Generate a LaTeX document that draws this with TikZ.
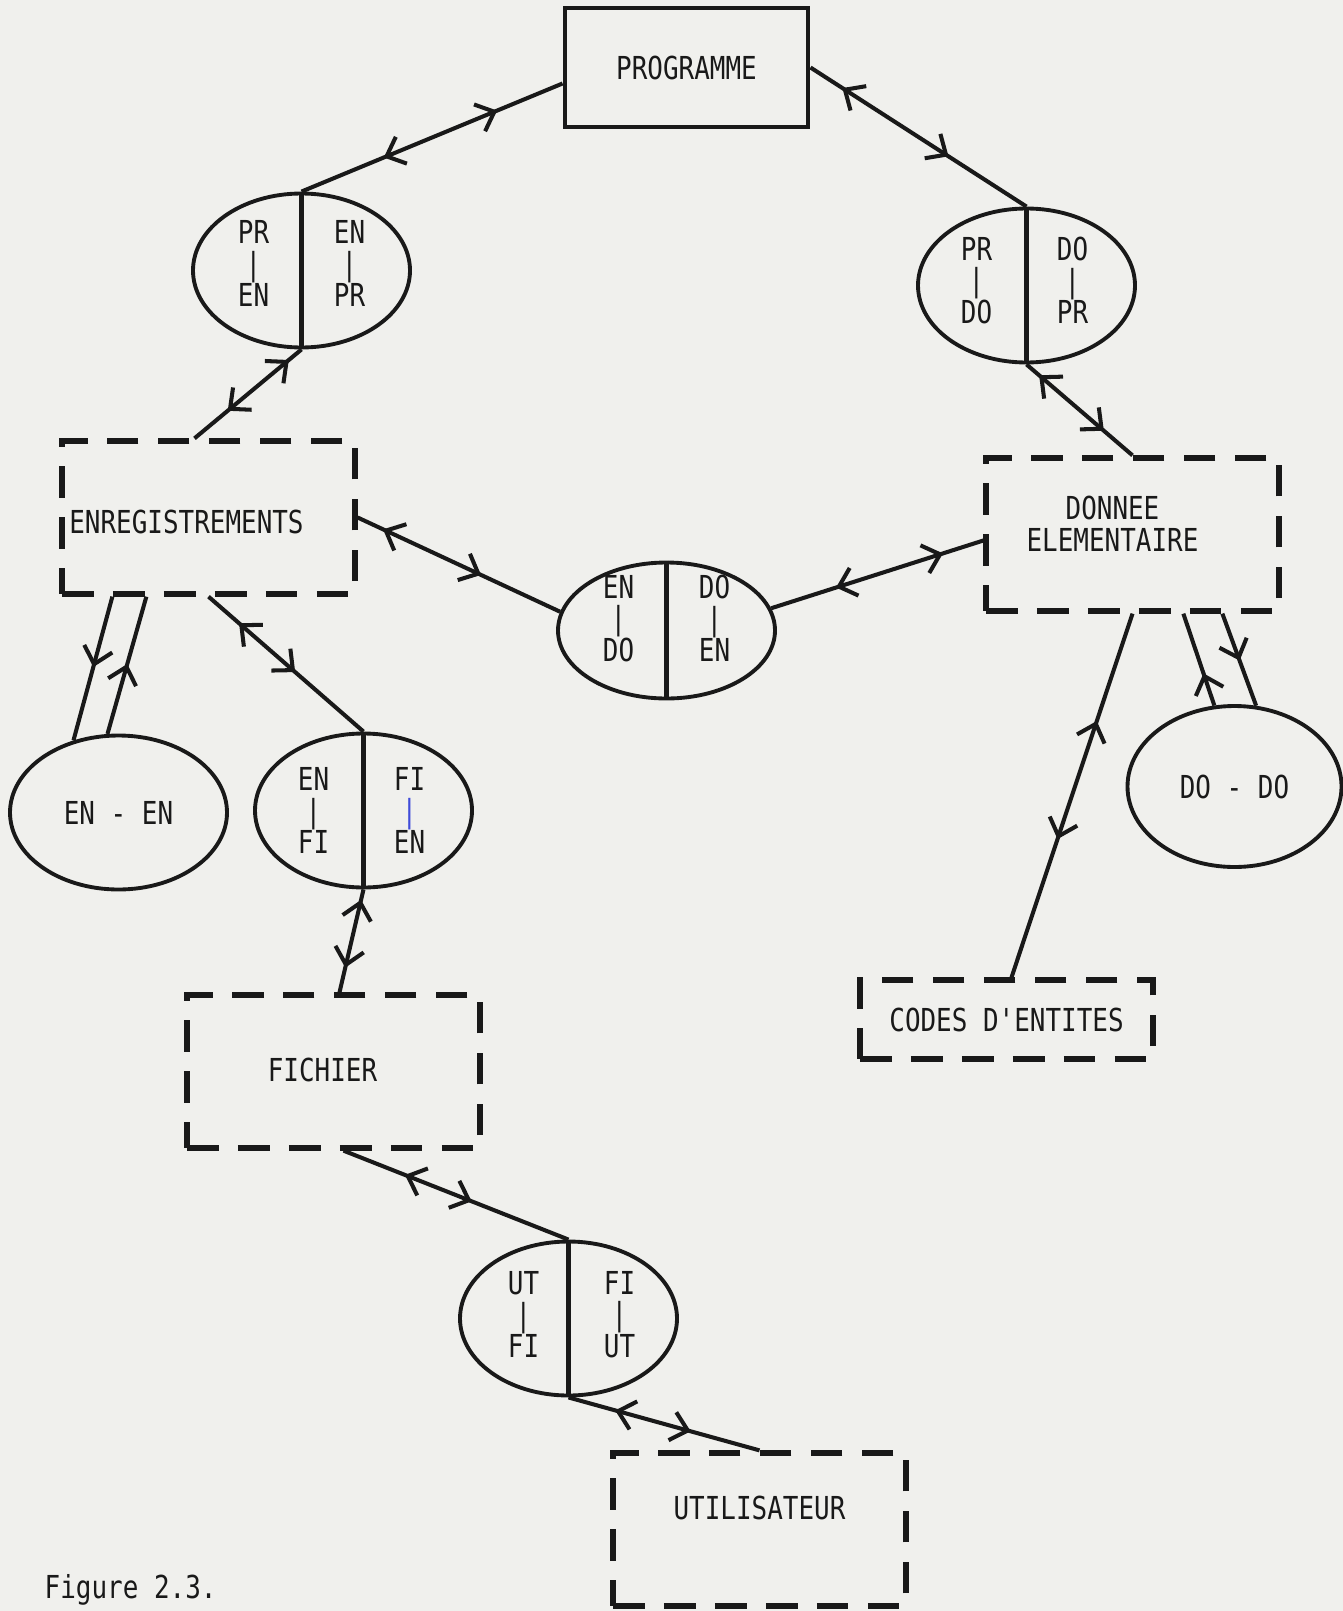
\documentclass[tikz,border=0pt]{standalone}
\usepackage{fontspec}
\setmonofont[FakeStretch=0.82]{DejaVu Sans Mono}
\usepackage{tikz}
\usetikzlibrary{shapes.geometric, arrows.meta, decorations.markings}
\definecolor{paper}{rgb}{0.94, 0.94, 0.93}
\definecolor{ink}{rgb}{0.1, 0.1, 0.1}
\definecolor{bluepen}{rgb}{0.25, 0.3, 0.85}
\tikzstyle{prg} = [rectangle,draw,line width=1.4pt,minimum width=2.43cm,minimum height=1.19cm]
\tikzstyle{ent} = [rectangle,draw,line width=1.5pt,dash pattern=on 9pt off 5.5pt,minimum width=2.93cm,minimum height=1.53cm]
\tikzstyle{rel} = [ellipse,draw,line width=1.1pt,inner sep=0pt,minimum width=2.17cm,minimum height=1.54cm]
\tikzstyle{half} = [align=center,inner sep=0pt]
\tikzset{lien/.style 2 args={postaction={decorate},decoration={markings,mark=at position #1 with {\arrow{<}},mark=at position #2 with {\arrow{>}}}}}
\tikzset{vers/.style={postaction={decorate},decoration={markings,mark=at position #1 with {\arrow{>}}}}}

\begin{document}
\begin{tikzpicture}[color=ink, line width=1.15pt, >={Straight Barb[length=1.6mm,width=2.9mm]}, every node/.style={font=\ttfamily\fontsize{9}{9}\selectfont}]
	\fill[paper] (0,0) rectangle (13.43,-16.11);
	\useasboundingbox (0,0) rectangle (13.43,-16.11);

	\node [prg](prog) at (6.865,-0.675) {PROGRAMME};
	\node [rel,below of=prog,xshift=-3.85cm,yshift=-1.03cm](pren){};
	\node [rel,below of=prog,xshift=3.4cm,yshift=-1.18cm](prdo){};
	\node [ent,below of=pren,xshift=-0.93cm,yshift=-1.47cm](enr){};
	\node [ent,below of=prdo,xshift=1.06cm,yshift=-1.49cm](don){};
	\node [rel,minimum height=1.36cm,right of=enr,xshift=3.58cm,yshift=-1.13cm](endo){};
	\node [rel,below of=enr,xshift=-0.9cm,yshift=-1.95cm](enen){EN - EN};
	\node [rel,below of=enr,xshift=1.55cm,yshift=-1.93cm](enfi){};
	\node [rel,minimum width=2.14cm,minimum height=1.61cm,below of=don,xshift=1.02cm,yshift=-1.52cm](dodo){DO - DO};
	\node [ent,minimum height=0.79cm,below of=don,xshift=-1.26cm,yshift=-3.85cm](codes){CODES D'ENTITES};
	\node [ent,below of=enfi,xshift=-0.3cm,yshift=-1.61cm](fich){};
	\node [rel,below of=fich,xshift=2.35cm,yshift=-1.47cm](utfi){};
	\node [ent,below of=utfi,xshift=1.91cm,yshift=-1.11cm](util){};

	\node (enrt) at ([xshift=-0.22cm,yshift=-0.04cm]enr.center) {ENREGISTREMENTS};
	\node [align=center](dont) at ([xshift=-0.2cm,yshift=0.11cm]don.center) {DONNEE\\ELEMENTAIRE};
	\node (ficht) at ([xshift=-0.11cm,yshift=0.02cm]fich.center) {FICHIER};
	\node (utilt) at ([yshift=0.22cm]util.center) {UTILISATEUR};

	% split relations
	\draw (pren.north)--(pren.south);
	\draw (prdo.north)--(prdo.south);
	\draw (endo.north)--(endo.south);
	\draw (enfi.north)--(enfi.south);
	\draw (utfi.north)--(utfi.south);
	\node [half](pren1) at ([xshift=-0.48cm,yshift=0.07cm]pren.center) {PR\\|\\EN};
	\node [half](pren2) at ([xshift=0.48cm,yshift=0.07cm]pren.center) {EN\\|\\PR};
	\node [half](prdo1) at ([xshift=-0.5cm,yshift=0.05cm]prdo.center) {PR\\|\\DO};
	\node [half](prdo2) at ([xshift=0.46cm,yshift=0.05cm]prdo.center) {DO\\|\\PR};
	\node [half](endo1) at ([xshift=-0.48cm,yshift=0.12cm]endo.center) {EN\\|\\DO};
	\node [half](endo2) at ([xshift=0.48cm,yshift=0.12cm]endo.center) {DO\\|\\EN};
	\node [half](enfi1) at ([xshift=-0.5cm]enfi.center) {EN\\|\\FI};
	\node [half](enfi2) at ([xshift=0.46cm]enfi.center) {FI\\{\color{bluepen}|}\\EN};
	\node [half](utfi1) at ([xshift=-0.45cm,yshift=0.04cm]utfi.center) {UT\\|\\FI};
	\node [half](utfi2) at ([xshift=0.51cm,yshift=0.04cm]utfi.center) {FI\\|\\UT};

	\draw[lien={0.39}{0.75}](pren.north)--([yshift=-0.16cm]prog.west);
	\draw[lien={0.23}{0.64}](prog.east)--(prdo.north);
	\draw[lien={0.27}{0.69}](pren.south)--([xshift=-0.14cm]enr.north);
	\draw[lien={0.27}{0.73}](prdo.south)--(don.north);
	\draw[lien={0.22}{0.61}](enr.east)--(endo.170);
	\draw[lien={0.40}{0.81}](endo.12)--([yshift=-0.06cm]don.west);
	\draw[vers=0.49]([xshift=0.53cm]enr.south west)--(enen.122);
	\draw[vers=0.51](enen.98)--([xshift=0.87cm]enr.south west);
	\draw[lien={0.30}{0.56}](enr.south)--(enfi.north);
	\draw[lien={0.30}{0.76}](enfi.south)--([xshift=0.06cm]fich.north);
	\draw[lien={0.36}{0.57}]([xshift=0.1cm]fich.south)--(utfi.north);
	\draw[lien={0.35}{0.64}](utfi.south)--(util.north);
	\draw[lien={0.35}{0.62}](don.south)--([xshift=0.05cm]codes.north);
	\draw[vers=0.35](dodo.104)--([xshift=2.0cm]don.south west);
	\draw[vers=0.51]([xshift=2.39cm]don.south west)--(dodo.75);

	\node [anchor=base west](fig) at (0.31,-15.98) {Figure 2.3.};
\end{tikzpicture}
\end{document}
